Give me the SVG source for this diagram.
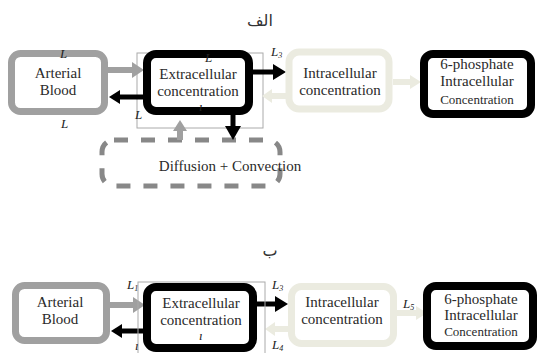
<svg xmlns="http://www.w3.org/2000/svg" width="537" height="353" viewBox="0 0 537 353">
<style>
.t{font-family:"Liberation Serif","Times New Roman",serif;font-size:15px;fill:#2a2a2a;text-anchor:middle}
.s{font-size:13px}
.l{font-family:"Liberation Serif",serif;font-size:13px;font-style:italic;fill:#222}
.ar{font-family:"DejaVu Sans","Noto Sans",sans-serif;font-size:16px;fill:#333;text-anchor:middle}
.g{fill:#fff;stroke:#a0a0a0;stroke-width:7}
.k{fill:#fff;stroke:#000;stroke-width:8}
.b{fill:#fff;stroke:#ebebe0;stroke-width:7}
.thin{fill:none;stroke:#aaa;stroke-width:1}
.dash{fill:none;stroke:#888;stroke-width:5;stroke-dasharray:14 13}
.ag{stroke:#a0a0a0;stroke-width:6;fill:none}
.ak{stroke:#000;stroke-width:5;fill:none}
.ab{stroke:#ebebe0;stroke-width:6;fill:none}
</style>
<text class="ar" x="260" y="26">الف</text>
<text class="ar" x="270" y="256">ب</text>

<g id="top-thin"><rect class="thin" x="137" y="53" width="126" height="75"/></g>
<g id="top-dashed"><rect class="dash" x="102" y="140" width="178" height="46" rx="12"/><text class="t" x="230" y="171">Diffusion + Convection</text></g>

<g id="connectors">
<line class="ag" x1="108" y1="70" x2="134" y2="70"/><polygon points="132,62 144,70 132,78" fill="#a0a0a0"/>
<line class="ak" x1="143" y1="97" x2="118" y2="97"/><polygon points="120,90 109,97 120,104" fill="#000"/>
<line class="ak" x1="253" y1="72" x2="275" y2="72"/><polygon points="273,64 286,72 273,80" fill="#000"/>
<line class="ab" x1="289" y1="96" x2="270" y2="96"/><polygon points="272,89 262,96 272,103" fill="#ebebe0"/>
<line class="ab" x1="393" y1="82" x2="412" y2="82"/><polygon points="410,75 421,82 410,89" fill="#ebebe0"/>
<line class="ak" x1="233" y1="114" x2="233" y2="128"/><polygon points="225,126 233,140 241,126" fill="#000"/>
<line class="ag" x1="180" y1="140" x2="180" y2="129"/><polygon points="173,131 180,120 187,131" fill="#a0a0a0"/>

<line class="ag" x1="110" y1="305" x2="135" y2="305"/><polygon points="133,297 145,305 133,313" fill="#a0a0a0"/>
<line class="ak" x1="144" y1="331" x2="120" y2="331"/><polygon points="122,324 111,331 122,338" fill="#000"/>
<line class="ak" x1="257" y1="304" x2="277" y2="304"/><polygon points="275,296 288,304 275,312" fill="#000"/>
<line class="ab" x1="291" y1="329" x2="273" y2="329"/><polygon points="275,322 265,329 275,336" fill="#ebebe0"/>
<line class="ab" x1="397" y1="313" x2="418" y2="313"/><polygon points="416,306 427,313 416,320" fill="#ebebe0"/>
</g>

<g id="top-arterial"><rect class="g" x="11.5" y="53.5" width="93" height="58" rx="9"/><text class="t" x="58" y="78">Arterial</text><text class="t" x="58" y="95">Blood</text></g>
<g id="top-extra"><rect class="k" x="147" y="54" width="102" height="57" rx="9"/><text class="t" x="198" y="79">Extracellular</text><text class="t" x="198" y="96">concentration</text></g>
<g id="top-intra"><rect class="b" x="289" y="52" width="100" height="57" rx="10"/><text class="t" x="340" y="78">Intracellular</text><text class="t" x="340" y="95">concentration</text></g>
<g id="top-phos"><rect class="k" x="424" y="54" width="107" height="60" rx="9"/><text class="t" x="477" y="69">6-phosphate</text><text class="t" x="477" y="86">Intracellular</text><text class="t s" x="477" y="104">Concentration</text></g>

<g id="top-labels">
<text class="l" x="60" y="58">L</text>
<text class="l" x="61" y="128">L</text>
<text class="l" x="205" y="62">L</text>
<text class="l" x="135" y="119">L</text>
<text class="l" x="271" y="56">L<tspan font-size="8" dy="2">3</tspan></text>
<text class="l" x="199" y="111" font-size="8">ı</text>
</g>

<g id="bot-thin"><rect class="thin" x="138" y="282" width="127" height="80"/></g>
<g id="bot-arterial"><rect class="g" x="15.5" y="285.5" width="91" height="55" rx="9"/><text class="t" x="60" y="307">Arterial</text><text class="t" x="60" y="324">Blood</text></g>
<g id="bot-extra"><rect class="k" x="147" y="287" width="106" height="61" rx="9"/><text class="t" x="201" y="308">Extracellular</text><text class="t" x="201" y="325">concentration</text></g>
<g id="bot-intra"><rect class="b" x="291.5" y="286.5" width="102" height="57" rx="10"/><text class="t" x="342" y="307">Intracellular</text><text class="t" x="342" y="324">concentration</text></g>
<g id="bot-phos"><rect class="k" x="427" y="286" width="106" height="60" rx="9"/><text class="t" x="481" y="304">6-phosphate</text><text class="t" x="481" y="320">Intracellular</text><text class="t s" x="481" y="336">Concentration</text></g>

<g id="bot-labels">
<text class="l" x="127" y="289">L<tspan font-size="8" dy="2">1</tspan></text>
<text class="l" x="272" y="289">L<tspan font-size="8" dy="2">3</tspan></text>
<text class="l" x="272" y="349" font-style="normal">L<tspan font-size="8" dy="2">4</tspan></text>
<text class="l" x="403" y="308">L<tspan font-size="8" dy="2">5</tspan></text>
<text class="l" x="199" y="340" font-size="8">ı</text>
<text class="l" x="135" y="350" font-size="8">ı</text>
</g>
</svg>
